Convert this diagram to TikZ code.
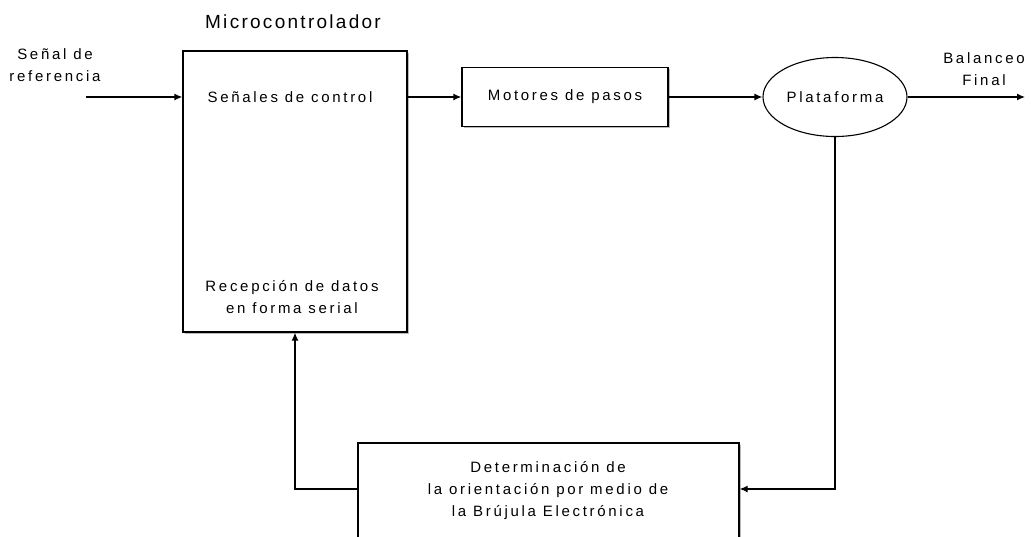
\documentclass[tikz,border=0pt]{standalone}
\usepackage{fontspec}
\setmainfont{Liberation Sans}[LetterSpace=18]
\usetikzlibrary{shapes.geometric,shadows,arrows.meta}

\tikzstyle{block}=[draw,line width=1.3pt,fill=white,drop shadow={shadow xshift=1.5pt,shadow yshift=-1.5pt,fill=black!45,opacity=.6}]
\tikzstyle{round block}=[ellipse,draw,line width=1.1pt]
\tikzstyle{blocktext}=[align=center,font=\fontsize{15}{22}\selectfont,inner sep=0pt]
\tikzstyle{edge}=[draw,line width=1.3pt,->]

\begin{document}
\begin{tikzpicture}[x=1pt,y=-1pt,>={Latex[length=8pt,width=7pt]}]
     \useasboundingbox (0,0) rectangle (1031,536);
     % The blocks of the loop
     \node[block,minimum width=224pt,minimum height=281pt] (micro) at (295,191.5) {};
     \node[block,blocktext,inner sep=0pt,minimum width=206pt,minimum height=59pt] (motores) at (565,97) {Motores de pasos};
     \node[round block,blocktext,minimum width=144pt,minimum height=79pt] (plataforma) at (835,97) {Plataforma};
     \node[block,minimum width=381pt,minimum height=120pt] (determ) at (548.5,503) {};
     % Texts inside and around the blocks
     \node[blocktext,font=\fontsize{19}{22}\selectfont\addfontfeature{LetterSpace=12}] (titulo) at (293,22) {Microcontrolador};
     \foreach \pos/\name/\txt in {{(55,65)/sref/{Señal de\\referencia}},
       {(290,97)/control/{Señales de control}},
       {(292,297)/serial/{Recepción de datos\\en forma serial}},
       {(548,491)/orient/{Determinación de\\la orientación por medio de\\la Brújula Electrónica}},
       {(984,69)/balanceo/{Balanceo\\Final}}}
     \node[blocktext] (\name) at \pos {\txt};
     \coordinate (entrada) at (86,97);
     \coordinate (salida) at (1025,97);
     % Connect the blocks
     \path[edge] (entrada) -- (entrada -| micro.west);
     \path[edge] (micro.east |- motores) -- (motores);
     \path[edge] (motores) -- (plataforma);
     \path[edge] (plataforma) -- (salida);
     \path[edge] (plataforma) |- (determ.east |- 0,489);
     \path[edge] (determ.west |- 0,489) -| (micro);
\end{tikzpicture}
\end{document}
